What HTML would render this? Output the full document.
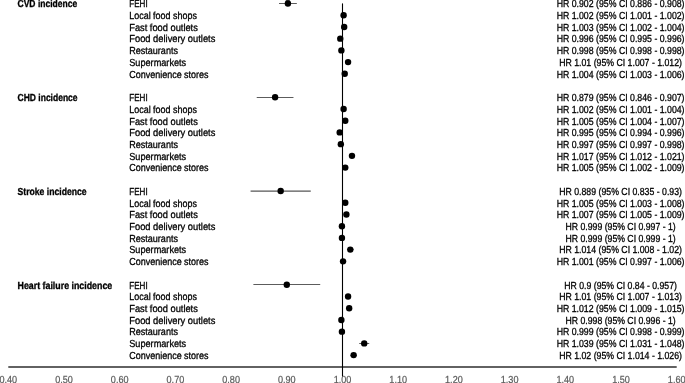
<!DOCTYPE html><html><head><meta charset="utf-8"><style>html,body{margin:0;padding:0;background:#fff;overflow:hidden}svg{display:block;will-change:transform}text{font-family:"Liberation Sans",sans-serif;text-rendering:geometricPrecision}</style></head><body>
<svg width="685" height="383" viewBox="0 0 685 383">
<rect x="8.30" y="366" width="668.40" height="2" fill="#626262"/>
<line x1="342.5" y1="3.9" x2="342.5" y2="376.3" stroke="#000" stroke-width="1.1" stroke-linecap="round"/>
<text x="8.30" y="383" font-size="10.2" fill="#595959" text-anchor="middle" textLength="17.7" lengthAdjust="spacingAndGlyphs" stroke="#595959" stroke-width="0.22">0.40</text>
<text x="64.00" y="383" font-size="10.2" fill="#595959" text-anchor="middle" textLength="17.7" lengthAdjust="spacingAndGlyphs" stroke="#595959" stroke-width="0.22">0.50</text>
<text x="119.70" y="383" font-size="10.2" fill="#595959" text-anchor="middle" textLength="17.7" lengthAdjust="spacingAndGlyphs" stroke="#595959" stroke-width="0.22">0.60</text>
<text x="175.40" y="383" font-size="10.2" fill="#595959" text-anchor="middle" textLength="17.7" lengthAdjust="spacingAndGlyphs" stroke="#595959" stroke-width="0.22">0.70</text>
<text x="231.10" y="383" font-size="10.2" fill="#595959" text-anchor="middle" textLength="17.7" lengthAdjust="spacingAndGlyphs" stroke="#595959" stroke-width="0.22">0.80</text>
<text x="286.80" y="383" font-size="10.2" fill="#595959" text-anchor="middle" textLength="17.7" lengthAdjust="spacingAndGlyphs" stroke="#595959" stroke-width="0.22">0.90</text>
<text x="342.50" y="383" font-size="10.2" fill="#595959" text-anchor="middle" textLength="17.7" lengthAdjust="spacingAndGlyphs" stroke="#595959" stroke-width="0.22">1.00</text>
<text x="398.20" y="383" font-size="10.2" fill="#595959" text-anchor="middle" textLength="17.7" lengthAdjust="spacingAndGlyphs" stroke="#595959" stroke-width="0.22">1.10</text>
<text x="453.90" y="383" font-size="10.2" fill="#595959" text-anchor="middle" textLength="17.7" lengthAdjust="spacingAndGlyphs" stroke="#595959" stroke-width="0.22">1.20</text>
<text x="509.60" y="383" font-size="10.2" fill="#595959" text-anchor="middle" textLength="17.7" lengthAdjust="spacingAndGlyphs" stroke="#595959" stroke-width="0.22">1.30</text>
<text x="565.30" y="383" font-size="10.2" fill="#595959" text-anchor="middle" textLength="17.7" lengthAdjust="spacingAndGlyphs" stroke="#595959" stroke-width="0.22">1.40</text>
<text x="621.00" y="383" font-size="10.2" fill="#595959" text-anchor="middle" textLength="17.7" lengthAdjust="spacingAndGlyphs" stroke="#595959" stroke-width="0.22">1.50</text>
<text x="676.70" y="383" font-size="10.2" fill="#595959" text-anchor="middle" textLength="17.7" lengthAdjust="spacingAndGlyphs" stroke="#595959" stroke-width="0.22">1.60</text>
<text x="17.55" y="7.30" font-size="10.2" font-weight="bold" textLength="59.6" lengthAdjust="spacingAndGlyphs" stroke="#000" stroke-width="0.33">CVD incidence</text>
<text x="129.25" y="7.30" font-size="10.2" textLength="18.4" lengthAdjust="spacingAndGlyphs" stroke="#000" stroke-width="0.3">FEHI</text>
<text x="620.6" y="7.30" font-size="10.2" text-anchor="middle" textLength="127.89" lengthAdjust="spacingAndGlyphs" stroke="#000" stroke-width="0.3">HR 0.902 (95% CI 0.886 - 0.908)</text>
<line x1="279.00" y1="3.50" x2="296.83" y2="3.50" stroke="#5c5c5c" stroke-width="1"/>
<circle cx="287.91" cy="3.50" r="3.2" fill="#000"/>
<text x="129.25" y="19.02" font-size="10.2" textLength="67.6" lengthAdjust="spacingAndGlyphs" stroke="#000" stroke-width="0.3">Local food shops</text>
<text x="620.6" y="19.02" font-size="10.2" text-anchor="middle" textLength="127.89" lengthAdjust="spacingAndGlyphs" stroke="#000" stroke-width="0.3">HR 1.002 (95% CI 1.001 - 1.002)</text>
<line x1="343.06" y1="15.50" x2="344.17" y2="15.50" stroke="#5c5c5c" stroke-width="1"/>
<circle cx="343.61" cy="15.22" r="3.2" fill="#000"/>
<text x="129.25" y="30.74" font-size="10.2" textLength="68.6" lengthAdjust="spacingAndGlyphs" stroke="#000" stroke-width="0.3">Fast food outlets</text>
<text x="620.6" y="30.74" font-size="10.2" text-anchor="middle" textLength="127.89" lengthAdjust="spacingAndGlyphs" stroke="#000" stroke-width="0.3">HR 1.003 (95% CI 1.002 - 1.004)</text>
<line x1="343.61" y1="26.50" x2="344.73" y2="26.50" stroke="#5c5c5c" stroke-width="1"/>
<circle cx="344.17" cy="26.94" r="3.2" fill="#000"/>
<text x="129.25" y="42.46" font-size="10.2" textLength="86.1" lengthAdjust="spacingAndGlyphs" stroke="#000" stroke-width="0.3">Food delivery outlets</text>
<text x="620.6" y="42.46" font-size="10.2" text-anchor="middle" textLength="127.89" lengthAdjust="spacingAndGlyphs" stroke="#000" stroke-width="0.3">HR 0.996 (95% CI 0.995 - 0.996)</text>
<line x1="339.71" y1="38.50" x2="340.83" y2="38.50" stroke="#5c5c5c" stroke-width="1"/>
<circle cx="340.27" cy="38.66" r="3.2" fill="#000"/>
<text x="129.25" y="54.18" font-size="10.2" textLength="48.7" lengthAdjust="spacingAndGlyphs" stroke="#000" stroke-width="0.3">Restaurants</text>
<text x="620.6" y="54.18" font-size="10.2" text-anchor="middle" textLength="127.89" lengthAdjust="spacingAndGlyphs" stroke="#000" stroke-width="0.3">HR 0.998 (95% CI 0.998 - 0.998)</text>
<circle cx="341.39" cy="50.38" r="3.2" fill="#000"/>
<text x="129.25" y="65.90" font-size="10.2" textLength="56.9" lengthAdjust="spacingAndGlyphs" stroke="#000" stroke-width="0.3">Supermarkets</text>
<text x="620.6" y="65.90" font-size="10.2" text-anchor="middle" textLength="122.82" lengthAdjust="spacingAndGlyphs" stroke="#000" stroke-width="0.3">HR 1.01 (95% CI 1.007 - 1.012)</text>
<line x1="346.40" y1="62.50" x2="349.74" y2="62.50" stroke="#5c5c5c" stroke-width="1"/>
<circle cx="348.07" cy="62.10" r="3.2" fill="#000"/>
<text x="129.25" y="77.62" font-size="10.2" textLength="79.3" lengthAdjust="spacingAndGlyphs" stroke="#000" stroke-width="0.3">Convenience stores</text>
<text x="620.6" y="77.62" font-size="10.2" text-anchor="middle" textLength="127.89" lengthAdjust="spacingAndGlyphs" stroke="#000" stroke-width="0.3">HR 1.004 (95% CI 1.003 - 1.006)</text>
<line x1="343.61" y1="73.50" x2="345.84" y2="73.50" stroke="#5c5c5c" stroke-width="1"/>
<circle cx="344.73" cy="73.82" r="3.2" fill="#000"/>
<text x="17.55" y="101.06" font-size="10.2" font-weight="bold" textLength="60.0" lengthAdjust="spacingAndGlyphs" stroke="#000" stroke-width="0.33">CHD incidence</text>
<text x="129.25" y="101.06" font-size="10.2" textLength="18.4" lengthAdjust="spacingAndGlyphs" stroke="#000" stroke-width="0.3">FEHI</text>
<text x="620.6" y="101.06" font-size="10.2" text-anchor="middle" textLength="127.89" lengthAdjust="spacingAndGlyphs" stroke="#000" stroke-width="0.3">HR 0.879 (95% CI 0.846 - 0.907)</text>
<line x1="256.72" y1="97.50" x2="293.48" y2="97.50" stroke="#5c5c5c" stroke-width="1"/>
<circle cx="275.10" cy="97.26" r="3.2" fill="#000"/>
<text x="129.25" y="112.78" font-size="10.2" textLength="67.6" lengthAdjust="spacingAndGlyphs" stroke="#000" stroke-width="0.3">Local food shops</text>
<text x="620.6" y="112.78" font-size="10.2" text-anchor="middle" textLength="127.89" lengthAdjust="spacingAndGlyphs" stroke="#000" stroke-width="0.3">HR 1.002 (95% CI 1.001 - 1.004)</text>
<line x1="342.50" y1="108.50" x2="344.73" y2="108.50" stroke="#5c5c5c" stroke-width="1"/>
<circle cx="343.61" cy="108.98" r="3.2" fill="#000"/>
<text x="129.25" y="124.50" font-size="10.2" textLength="68.6" lengthAdjust="spacingAndGlyphs" stroke="#000" stroke-width="0.3">Fast food outlets</text>
<text x="620.6" y="124.50" font-size="10.2" text-anchor="middle" textLength="127.89" lengthAdjust="spacingAndGlyphs" stroke="#000" stroke-width="0.3">HR 1.005 (95% CI 1.004 - 1.007)</text>
<line x1="344.17" y1="120.50" x2="346.40" y2="120.50" stroke="#5c5c5c" stroke-width="1"/>
<circle cx="345.28" cy="120.70" r="3.2" fill="#000"/>
<text x="129.25" y="136.22" font-size="10.2" textLength="86.1" lengthAdjust="spacingAndGlyphs" stroke="#000" stroke-width="0.3">Food delivery outlets</text>
<text x="620.6" y="136.22" font-size="10.2" text-anchor="middle" textLength="127.89" lengthAdjust="spacingAndGlyphs" stroke="#000" stroke-width="0.3">HR 0.995 (95% CI 0.994 - 0.996)</text>
<line x1="339.16" y1="132.50" x2="340.27" y2="132.50" stroke="#5c5c5c" stroke-width="1"/>
<circle cx="339.71" cy="132.42" r="3.2" fill="#000"/>
<text x="129.25" y="147.94" font-size="10.2" textLength="48.7" lengthAdjust="spacingAndGlyphs" stroke="#000" stroke-width="0.3">Restaurants</text>
<text x="620.6" y="147.94" font-size="10.2" text-anchor="middle" textLength="127.89" lengthAdjust="spacingAndGlyphs" stroke="#000" stroke-width="0.3">HR 0.997 (95% CI 0.997 - 0.998)</text>
<line x1="340.27" y1="144.50" x2="341.39" y2="144.50" stroke="#5c5c5c" stroke-width="1"/>
<circle cx="340.83" cy="144.14" r="3.2" fill="#000"/>
<text x="129.25" y="159.66" font-size="10.2" textLength="56.9" lengthAdjust="spacingAndGlyphs" stroke="#000" stroke-width="0.3">Supermarkets</text>
<text x="620.6" y="159.66" font-size="10.2" text-anchor="middle" textLength="127.89" lengthAdjust="spacingAndGlyphs" stroke="#000" stroke-width="0.3">HR 1.017 (95% CI 1.012 - 1.021)</text>
<line x1="349.18" y1="155.50" x2="354.75" y2="155.50" stroke="#5c5c5c" stroke-width="1"/>
<circle cx="351.97" cy="155.86" r="3.2" fill="#000"/>
<text x="129.25" y="171.38" font-size="10.2" textLength="79.3" lengthAdjust="spacingAndGlyphs" stroke="#000" stroke-width="0.3">Convenience stores</text>
<text x="620.6" y="171.38" font-size="10.2" text-anchor="middle" textLength="127.89" lengthAdjust="spacingAndGlyphs" stroke="#000" stroke-width="0.3">HR 1.005 (95% CI 1.002 - 1.009)</text>
<line x1="343.06" y1="167.50" x2="347.51" y2="167.50" stroke="#5c5c5c" stroke-width="1"/>
<circle cx="345.28" cy="167.58" r="3.2" fill="#000"/>
<text x="17.55" y="194.82" font-size="10.2" font-weight="bold" textLength="69.0" lengthAdjust="spacingAndGlyphs" stroke="#000" stroke-width="0.33">Stroke incidence</text>
<text x="129.25" y="194.82" font-size="10.2" textLength="18.4" lengthAdjust="spacingAndGlyphs" stroke="#000" stroke-width="0.3">FEHI</text>
<text x="620.6" y="194.82" font-size="10.2" text-anchor="middle" textLength="122.82" lengthAdjust="spacingAndGlyphs" stroke="#000" stroke-width="0.3">HR 0.889 (95% CI 0.835 - 0.93)</text>
<line x1="250.59" y1="191.10" x2="310.75" y2="191.10" stroke="#2a2a2a" stroke-width="1"/>
<circle cx="280.67" cy="191.02" r="3.2" fill="#000"/>
<text x="129.25" y="206.54" font-size="10.2" textLength="67.6" lengthAdjust="spacingAndGlyphs" stroke="#000" stroke-width="0.3">Local food shops</text>
<text x="620.6" y="206.54" font-size="10.2" text-anchor="middle" textLength="127.89" lengthAdjust="spacingAndGlyphs" stroke="#000" stroke-width="0.3">HR 1.005 (95% CI 1.003 - 1.008)</text>
<line x1="343.61" y1="202.50" x2="346.96" y2="202.50" stroke="#5c5c5c" stroke-width="1"/>
<circle cx="345.28" cy="202.74" r="3.2" fill="#000"/>
<text x="129.25" y="218.26" font-size="10.2" textLength="68.6" lengthAdjust="spacingAndGlyphs" stroke="#000" stroke-width="0.3">Fast food outlets</text>
<text x="620.6" y="218.26" font-size="10.2" text-anchor="middle" textLength="127.89" lengthAdjust="spacingAndGlyphs" stroke="#000" stroke-width="0.3">HR 1.007 (95% CI 1.005 - 1.009)</text>
<line x1="345.28" y1="214.50" x2="347.51" y2="214.50" stroke="#5c5c5c" stroke-width="1"/>
<circle cx="346.40" cy="214.46" r="3.2" fill="#000"/>
<text x="129.25" y="229.98" font-size="10.2" textLength="86.1" lengthAdjust="spacingAndGlyphs" stroke="#000" stroke-width="0.3">Food delivery outlets</text>
<text x="620.6" y="229.98" font-size="10.2" text-anchor="middle" textLength="110.16" lengthAdjust="spacingAndGlyphs" stroke="#000" stroke-width="0.3">HR 0.999 (95% CI 0.997 - 1)</text>
<line x1="340.83" y1="226.50" x2="343.06" y2="226.50" stroke="#5c5c5c" stroke-width="1"/>
<circle cx="341.94" cy="226.18" r="3.2" fill="#000"/>
<text x="129.25" y="241.70" font-size="10.2" textLength="48.7" lengthAdjust="spacingAndGlyphs" stroke="#000" stroke-width="0.3">Restaurants</text>
<text x="620.6" y="241.70" font-size="10.2" text-anchor="middle" textLength="110.16" lengthAdjust="spacingAndGlyphs" stroke="#000" stroke-width="0.3">HR 0.999 (95% CI 0.999 - 1)</text>
<line x1="341.39" y1="237.50" x2="342.50" y2="237.50" stroke="#5c5c5c" stroke-width="1"/>
<circle cx="341.94" cy="237.90" r="3.2" fill="#000"/>
<text x="129.25" y="253.42" font-size="10.2" textLength="56.9" lengthAdjust="spacingAndGlyphs" stroke="#000" stroke-width="0.3">Supermarkets</text>
<text x="620.6" y="253.42" font-size="10.2" text-anchor="middle" textLength="122.82" lengthAdjust="spacingAndGlyphs" stroke="#000" stroke-width="0.3">HR 1.014 (95% CI 1.008 - 1.02)</text>
<line x1="346.96" y1="249.50" x2="353.64" y2="249.50" stroke="#5c5c5c" stroke-width="1"/>
<circle cx="350.30" cy="249.62" r="3.2" fill="#000"/>
<text x="129.25" y="265.14" font-size="10.2" textLength="79.3" lengthAdjust="spacingAndGlyphs" stroke="#000" stroke-width="0.3">Convenience stores</text>
<text x="620.6" y="265.14" font-size="10.2" text-anchor="middle" textLength="127.89" lengthAdjust="spacingAndGlyphs" stroke="#000" stroke-width="0.3">HR 1.001 (95% CI 0.997 - 1.006)</text>
<line x1="340.27" y1="261.50" x2="345.84" y2="261.50" stroke="#5c5c5c" stroke-width="1"/>
<circle cx="343.06" cy="261.34" r="3.2" fill="#000"/>
<text x="17.55" y="288.58" font-size="10.2" font-weight="bold" textLength="94.7" lengthAdjust="spacingAndGlyphs" stroke="#000" stroke-width="0.33">Heart failure incidence</text>
<text x="129.25" y="288.58" font-size="10.2" textLength="18.4" lengthAdjust="spacingAndGlyphs" stroke="#000" stroke-width="0.3">FEHI</text>
<text x="620.6" y="288.58" font-size="10.2" text-anchor="middle" textLength="112.69" lengthAdjust="spacingAndGlyphs" stroke="#000" stroke-width="0.3">HR 0.9 (95% CI 0.84 - 0.957)</text>
<line x1="253.38" y1="284.50" x2="320.22" y2="284.50" stroke="#5c5c5c" stroke-width="1"/>
<circle cx="286.80" cy="284.78" r="3.2" fill="#000"/>
<text x="129.25" y="300.30" font-size="10.2" textLength="67.6" lengthAdjust="spacingAndGlyphs" stroke="#000" stroke-width="0.3">Local food shops</text>
<text x="620.6" y="300.30" font-size="10.2" text-anchor="middle" textLength="122.82" lengthAdjust="spacingAndGlyphs" stroke="#000" stroke-width="0.3">HR 1.01 (95% CI 1.007 - 1.013)</text>
<line x1="346.40" y1="296.50" x2="349.74" y2="296.50" stroke="#5c5c5c" stroke-width="1"/>
<circle cx="348.07" cy="296.50" r="3.2" fill="#000"/>
<text x="129.25" y="312.02" font-size="10.2" textLength="68.6" lengthAdjust="spacingAndGlyphs" stroke="#000" stroke-width="0.3">Fast food outlets</text>
<text x="620.6" y="312.02" font-size="10.2" text-anchor="middle" textLength="127.89" lengthAdjust="spacingAndGlyphs" stroke="#000" stroke-width="0.3">HR 1.012 (95% CI 1.009 - 1.015)</text>
<line x1="347.51" y1="308.50" x2="350.86" y2="308.50" stroke="#5c5c5c" stroke-width="1"/>
<circle cx="349.18" cy="308.22" r="3.2" fill="#000"/>
<text x="129.25" y="323.74" font-size="10.2" textLength="86.1" lengthAdjust="spacingAndGlyphs" stroke="#000" stroke-width="0.3">Food delivery outlets</text>
<text x="620.6" y="323.74" font-size="10.2" text-anchor="middle" textLength="110.16" lengthAdjust="spacingAndGlyphs" stroke="#000" stroke-width="0.3">HR 0.998 (95% CI 0.996 - 1)</text>
<line x1="340.27" y1="319.50" x2="342.50" y2="319.50" stroke="#5c5c5c" stroke-width="1"/>
<circle cx="341.39" cy="319.94" r="3.2" fill="#000"/>
<text x="129.25" y="335.46" font-size="10.2" textLength="48.7" lengthAdjust="spacingAndGlyphs" stroke="#000" stroke-width="0.3">Restaurants</text>
<text x="620.6" y="335.46" font-size="10.2" text-anchor="middle" textLength="127.89" lengthAdjust="spacingAndGlyphs" stroke="#000" stroke-width="0.3">HR 0.999 (95% CI 0.998 - 0.999)</text>
<line x1="341.39" y1="331.50" x2="342.50" y2="331.50" stroke="#5c5c5c" stroke-width="1"/>
<circle cx="341.94" cy="331.66" r="3.2" fill="#000"/>
<text x="129.25" y="347.18" font-size="10.2" textLength="56.9" lengthAdjust="spacingAndGlyphs" stroke="#000" stroke-width="0.3">Supermarkets</text>
<text x="620.6" y="347.18" font-size="10.2" text-anchor="middle" textLength="127.89" lengthAdjust="spacingAndGlyphs" stroke="#000" stroke-width="0.3">HR 1.039 (95% CI 1.031 - 1.048)</text>
<line x1="359.21" y1="343.50" x2="369.24" y2="343.50" stroke="#5c5c5c" stroke-width="1"/>
<circle cx="364.22" cy="343.38" r="3.2" fill="#000"/>
<text x="129.25" y="358.90" font-size="10.2" textLength="79.3" lengthAdjust="spacingAndGlyphs" stroke="#000" stroke-width="0.3">Convenience stores</text>
<text x="620.6" y="358.90" font-size="10.2" text-anchor="middle" textLength="122.82" lengthAdjust="spacingAndGlyphs" stroke="#000" stroke-width="0.3">HR 1.02 (95% CI 1.014 - 1.026)</text>
<line x1="350.30" y1="355.50" x2="356.98" y2="355.50" stroke="#5c5c5c" stroke-width="1"/>
<circle cx="353.64" cy="355.10" r="3.2" fill="#000"/>
<rect x="285.8" y="0" width="4" height="1" fill="#000" opacity="0.6"/>
</svg></body></html>
